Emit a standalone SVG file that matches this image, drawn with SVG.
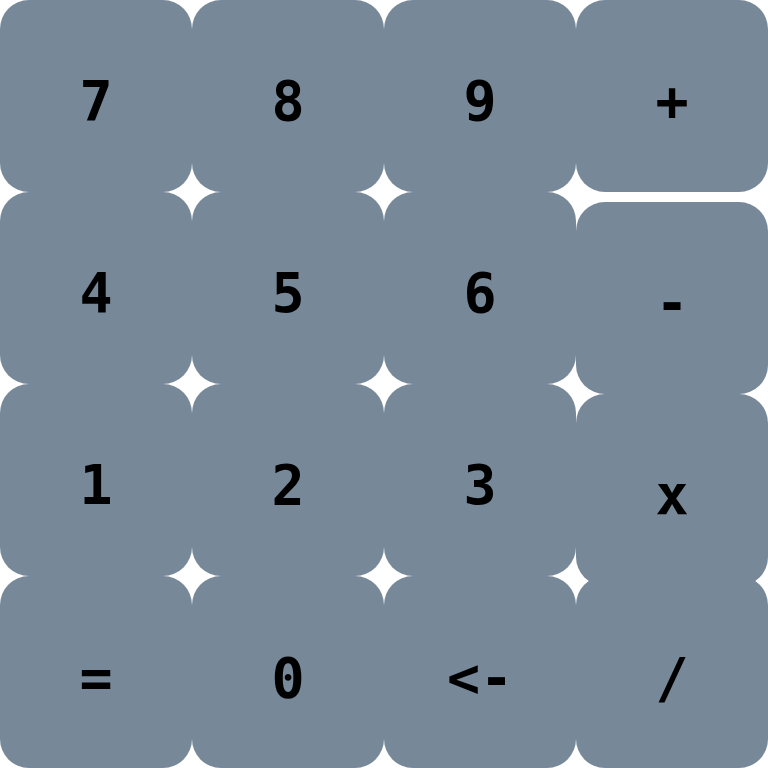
<svg xmlns="http://www.w3.org/2000/svg" width="768" height="768" viewBox="0 0 768 768">
<style>
.k{fill:#778899}
.t{font-family:"DejaVu Sans Mono","Liberation Mono",monospace;font-weight:bold;font-size:55px;fill:#000;text-anchor:middle}
</style>
<rect width="768" height="768" fill="#fff"/>
<g id="key-7"><rect class="k" x="0" y="0" width="192" height="192" rx="29"/><text class="t" x="96" y="120">7</text></g>
<g id="key-8"><rect class="k" x="192" y="0" width="192" height="192" rx="29"/><text class="t" x="288" y="120">8</text></g>
<g id="key-9"><rect class="k" x="384" y="0" width="192" height="192" rx="29"/><text class="t" x="480" y="120">9</text></g>
<g id="key-plus"><rect class="k" x="576" y="0" width="192" height="192" rx="29"/><text class="t" x="672" y="120">+</text></g>
<g id="key-4"><rect class="k" x="0" y="192" width="192" height="192" rx="29"/><text class="t" x="96" y="312">4</text></g>
<g id="key-5"><rect class="k" x="192" y="192" width="192" height="192" rx="29"/><text class="t" x="288" y="312">5</text></g>
<g id="key-6"><rect class="k" x="384" y="192" width="192" height="192" rx="29"/><text class="t" x="480" y="312">6</text></g>
<g id="key-minus"><rect class="k" x="576" y="202" width="192" height="192" rx="29"/><text class="t" x="672" y="322">-</text></g>
<g id="key-1"><rect class="k" x="0" y="384" width="192" height="192" rx="29"/><text class="t" x="96" y="504">1</text></g>
<g id="key-2"><rect class="k" x="192" y="384" width="192" height="192" rx="29"/><text class="t" x="288" y="504">2</text></g>
<g id="key-3"><rect class="k" x="384" y="384" width="192" height="192" rx="29"/><text class="t" x="480" y="504">3</text></g>
<g id="key-times"><rect class="k" x="576" y="394" width="192" height="192" rx="29"/><text class="t" x="672" y="514">x</text></g>
<g id="key-equals"><rect class="k" x="0" y="576" width="192" height="192" rx="29"/><text class="t" x="96" y="697">=</text></g>
<g id="key-0"><rect class="k" x="192" y="576" width="192" height="192" rx="29"/><text class="t" x="288" y="697">0</text></g>
<g id="key-back"><rect class="k" x="384" y="576" width="192" height="192" rx="29"/><text class="t" x="480" y="697">&lt;-</text></g>
<g id="key-divide"><rect class="k" x="576" y="576" width="192" height="192" rx="29"/><text class="t" x="672" y="697">/</text></g>
<g id="connectors"/>
</svg>
